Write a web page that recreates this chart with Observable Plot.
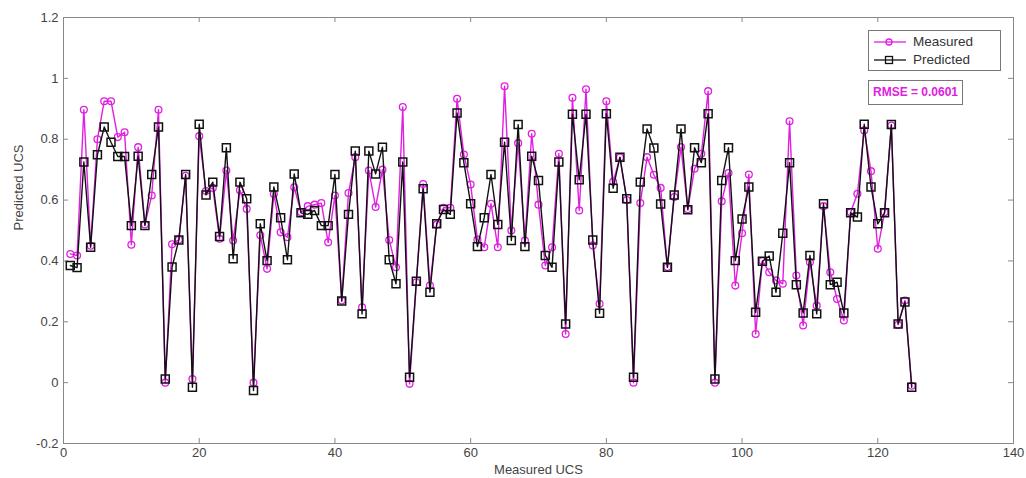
<!DOCTYPE html>
<html>
<head>
<meta charset="utf-8">
<script src="https://cdn.jsdelivr.net/npm/d3@7"></script>
<script src="https://cdn.jsdelivr.net/npm/@observablehq/plot@0.6"></script>
<style>
  html, body { margin: 0; padding: 0; background: #fff; }
  #wrap { position: relative; width: 1026px; height: 478px; font-family: "Liberation Sans", Arial, sans-serif; }
  #legend { position: absolute; left: 868px; top: 30px; width: 133px; height: 41px; border: 1px solid #777; background: #fff; box-sizing: border-box; }
  #legend .row { position: absolute; left: 0; height: 18px; font-size: 13.5px; color: #333; }
  #rmse { position: absolute; left: 868px; top: 80px; width: 95px; height: 25px; border: 1px solid #777; background: #fff; box-sizing: border-box;
          color: #e020e0; font-weight: bold; font-size: 12px; line-height: 23px; text-align: center; }
</style>
</head>
<body>
<div id="wrap"></div>
<script>
// ---- data ----
const measured = [
  0.423, 0.418, 0.897, 0.45, 0.80, 0.925, 0.925, 0.807, 0.823, 0.453,
  0.774, 0.52, 0.615, 0.897, 0.0, 0.455, 0.47, 0.68, 0.012, 0.81,
  0.63, 0.64, 0.473, 0.697, 0.467, 0.632, 0.571, 0.0, 0.484, 0.374,
  0.62, 0.494, 0.478, 0.642, 0.56, 0.58, 0.585, 0.59, 0.461, 0.615,
  0.27, 0.623, 0.741, 0.248, 0.697, 0.577, 0.70, 0.469, 0.379, 0.906,
  -0.004, 0.33, 0.653, 0.319, 0.52, 0.575, 0.575, 0.933, 0.75, 0.651,
  0.47, 0.445, 0.588, 0.445, 0.974, 0.5, 0.787, 0.467, 0.818, 0.585,
  0.385, 0.445, 0.752, 0.16, 0.936, 0.566, 0.964, 0.451, 0.259, 0.925,
  0.66, 0.74, 0.60, 0.0, 0.59, 0.741, 0.683, 0.64, 0.38, 0.61,
  0.774, 0.57, 0.703, 0.752, 0.958, 0.0, 0.596, 0.689, 0.319, 0.491,
  0.684, 0.16, 0.40, 0.363, 0.336, 0.325, 0.859, 0.352, 0.188, 0.396,
  0.253, 0.58, 0.363, 0.275, 0.204, 0.56, 0.621, 0.829, 0.695, 0.44,
  0.56, 0.845, 0.19, 0.27, -0.01
];
const predicted = [
  0.385, 0.378, 0.725, 0.445, 0.749, 0.84, 0.79, 0.743, 0.743, 0.516,
  0.744, 0.516, 0.684, 0.84, 0.012, 0.38, 0.469, 0.684, -0.015, 0.849,
  0.617, 0.659, 0.48, 0.772, 0.407, 0.659, 0.604, -0.026, 0.522, 0.401,
  0.643, 0.542, 0.404, 0.686, 0.558, 0.553, 0.566, 0.516, 0.516, 0.684,
  0.268, 0.553, 0.761, 0.226, 0.761, 0.686, 0.774, 0.404, 0.325, 0.725,
  0.018, 0.333, 0.637, 0.297, 0.522, 0.569, 0.553, 0.886, 0.723, 0.588,
  0.447, 0.542, 0.684, 0.52, 0.79, 0.467, 0.848, 0.447, 0.744, 0.664,
  0.418, 0.379, 0.725, 0.193, 0.882, 0.667, 0.882, 0.469, 0.228, 0.884,
  0.639, 0.741, 0.604, 0.018, 0.659, 0.834, 0.771, 0.587, 0.379, 0.617,
  0.834, 0.568, 0.772, 0.723, 0.884, 0.012, 0.664, 0.772, 0.401, 0.538,
  0.643, 0.231, 0.399, 0.416, 0.297, 0.491, 0.723, 0.322, 0.229, 0.418,
  0.226, 0.588, 0.322, 0.33, 0.229, 0.558, 0.544, 0.849, 0.643, 0.522,
  0.558, 0.848, 0.193, 0.265, -0.015
];
const xTicks = [0, 20, 40, 60, 80, 100, 120, 140];
const yTicks = [-0.2, 0, 0.2, 0.4, 0.6, 0.8, 1, 1.2];
const seriesNames = ["Measured", "Predicted"];
const seriesColors = ["#e020e0", "#111111"];
const rmseText = "RMSE = 0.0601";
const xLabel = "Measured UCS";
const yLabel = "Predicted UCS";

const mData = measured.map((v, i) => ({x: i + 1, y: v}));
const pData = predicted.map((v, i) => ({x: i + 1, y: v}));

const fmtY = d => String(+d.toFixed(1));
const W = 1026, H = 478, ML = 63, MR = 13, MT = 17, MB = 35;
const innerW = W - ML - MR, innerH = H - MT - MB, TL = 5;

const chart = Plot.plot({
  width: W,
  height: H,
  marginLeft: ML,
  marginRight: MR,
  marginTop: MT,
  marginBottom: MB,
  style: {fontFamily: "'Liberation Sans', Arial, sans-serif", fontSize: "13px", color: "#444", background: "#fff"},
  x: {domain: [0, 140], ticks: xTicks},
  y: {domain: [-0.2, 1.2], ticks: yTicks},
  marks: [
    // tick labels
    Plot.axisX(xTicks, {anchor: "bottom", tickSize: 0, tickPadding: 4, tickFormat: d => String(d), label: null, fill: "#444"}),
    Plot.axisY(yTicks, {anchor: "left", tickSize: 0, tickPadding: 5, tickFormat: fmtY, label: null, fill: "#444"}),
    // inward ticks on all four sides
    Plot.ruleX(xTicks, {x: d => d, insetTop: innerH - TL, stroke: "#888"}),
    Plot.ruleX(xTicks, {x: d => d, insetBottom: innerH - TL, stroke: "#888"}),
    Plot.ruleY(yTicks, {y: d => d, insetRight: innerW - TL, stroke: "#888"}),
    Plot.ruleY(yTicks, {y: d => d, insetLeft: innerW - TL, stroke: "#888"}),
    Plot.frame({stroke: "#888"}),
    // axis titles
    Plot.text([xLabel], {frameAnchor: "bottom", dy: 30, text: d => d, fill: "#444", fontSize: 13}),
    Plot.text([yLabel], {frameAnchor: "left", dx: -45, rotate: -90, text: d => d, fill: "#444", fontSize: 13}),
    // measured
    Plot.line(mData, {x: "x", y: "y", stroke: seriesColors[0], strokeWidth: 1.4}),
    Plot.dot(mData, {x: "x", y: "y", r: 3.4, stroke: seriesColors[0], fill: "none", strokeWidth: 1.3}),
    // predicted
    Plot.line(pData, {x: "x", y: "y", stroke: seriesColors[1], strokeWidth: 1.4}),
    Plot.dot(pData, {x: "x", y: "y", symbol: "square", r: 4.5, stroke: seriesColors[1], fill: "none", strokeWidth: 1.5})
  ]
});

const wrap = document.getElementById("wrap");
wrap.appendChild(chart);

// legend overlay
const legend = document.createElement("div");
legend.id = "legend";
seriesNames.forEach((name, i) => {
  const row = document.createElement("div");
  row.className = "row";
  row.style.top = (i === 0 ? 2 : 20) + "px";
  const color = seriesColors[i];
  const marker = i === 0
    ? `<circle cx="19" cy="9" r="3" fill="none" stroke="${color}" stroke-width="1.3"/>`
    : `<rect x="15.5" y="5.5" width="7" height="7" fill="none" stroke="${color}" stroke-width="1.3"/>`;
  row.innerHTML = `<svg width="42" height="18" style="position:absolute;left:1px;top:0"><line x1="4" x2="36" y1="9" y2="9" stroke="${color}" stroke-width="1.3"/>${marker}</svg><span style="position:absolute;left:44px;top:0;line-height:18px;white-space:nowrap">${name}</span>`;
  legend.appendChild(row);
});
wrap.appendChild(legend);

const rmse = document.createElement("div");
rmse.id = "rmse";
rmse.textContent = rmseText;
wrap.appendChild(rmse);
</script>
</body>
</html>
